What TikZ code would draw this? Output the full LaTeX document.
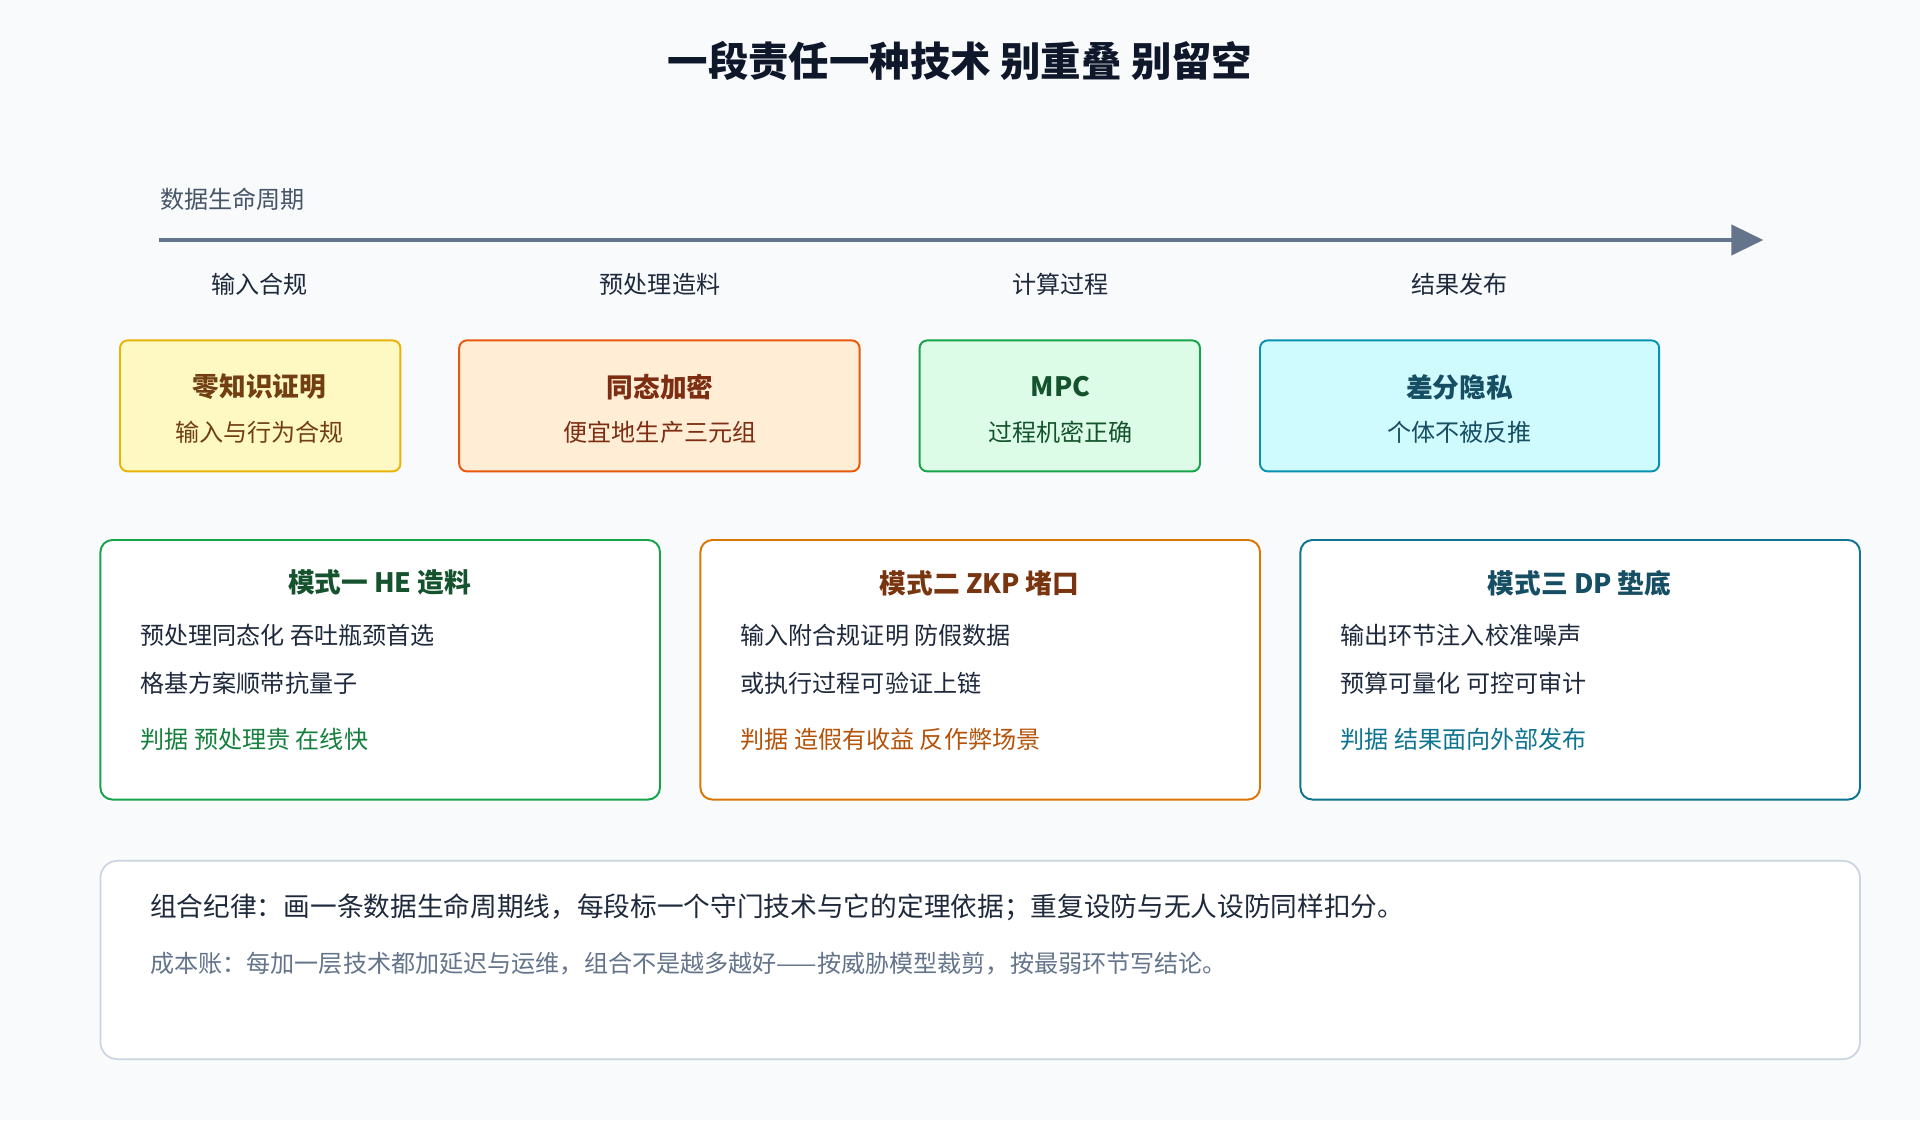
\documentclass[tikz,border=0pt]{standalone}
\usepackage{fontspec}
\setmainfont{Noto Sans CJK SC}
\usetikzlibrary{arrows.meta}
\definecolor{bgGray}{HTML}{F8FAFC}
\definecolor{dInk}{HTML}{0F172A}
\definecolor{dText}{HTML}{1E293B}
\definecolor{dMuted}{HTML}{475569}
\definecolor{dAxis}{HTML}{64748B}
\definecolor{dRule}{HTML}{CBD5E1}
\definecolor{yFill}{HTML}{FEF9C3}\definecolor{yLine}{HTML}{EAB308}\definecolor{yInk}{HTML}{713F12}
\definecolor{oFill}{HTML}{FFEDD5}\definecolor{oLine}{HTML}{EA580C}\definecolor{oInk}{HTML}{7C2D12}
\definecolor{gFill}{HTML}{DCFCE7}\definecolor{gLine}{HTML}{16A34A}\definecolor{gInk}{HTML}{14532D}
\definecolor{cFill}{HTML}{CFFAFE}\definecolor{cLine}{HTML}{0891B2}\definecolor{cInk}{HTML}{164E63}
\definecolor{aLine}{HTML}{D97706}\definecolor{aInk}{HTML}{78350F}\definecolor{aJudge}{HTML}{B45309}
\definecolor{gJudge}{HTML}{15803D}\definecolor{tLine}{HTML}{0E7490}
\tikzset{
    stage/.style={
            rounded corners=1.8pt,
            line width=0.45pt,
            draw={#1}
        },
    mode/.style={
            rounded corners=2.8pt,
            line width=0.45pt,
            draw={#1},
            fill=white
        },
    txt/.style={
            inner sep=0pt,
            font=\fontsize{5.6pt}{6.5pt}\selectfont,
            text={#1}
        },
    txt/.default={dText},
    head/.style={
            inner sep=0pt,
            font=\fontsize{6.2pt}{7pt}\selectfont\bfseries,
            text={#1}
        },
}
\begin{document}
\begin{tikzpicture}[x=0.1mm,y=-0.1mm]
    \fill[bgGray] (0,0) rectangle (1568,915);
    \node[inner sep=0pt,font=\fontsize{9.4pt}{10pt}\selectfont\bfseries,text=dInk] (title) at (784,50) {一段责任一种技术 别重叠 别留空};
    % lifecycle axis
    \node[txt=dMuted,anchor=west] (axislabel) at (130,163) {数据生命周期};
    \coordinate (axisL) at (130,196);
    \coordinate (axisR) at (1440,196);
    \draw[dAxis,line width=0.85pt,-{Triangle[length=7.4pt,width=7pt]}] (axisL) -- (axisR);
    \foreach \x/\t [count=\i] in {212/输入合规,539/预处理造料,866/计算过程,1192/结果发布}
        \node[txt=dText] (phase\i) at (\x,232) {\t};
    % stage boxes
    \filldraw[stage=yLine,fill=yFill] (98,278) rectangle (327,385);
    \filldraw[stage=oLine,fill=oFill] (375,278) rectangle (702,385);
    \filldraw[stage=gLine,fill=gFill] (751,278) rectangle (980,385);
    \filldraw[stage=cLine,fill=cFill] (1029,278) rectangle (1355,385);
    \node[head=yInk] (zkp) at (212,316) {零知识证明};
    \node[txt=yInk] (zkpsub) at (212,353) {输入与行为合规};
    \node[head=oInk] (he) at (539,316) {同态加密};
    \node[txt=oInk] (hesub) at (539,353) {便宜地生产三元组};
    \node[head=gInk] (mpc) at (866,316) {MPC};
    \node[txt=gInk] (mpcsub) at (866,353) {过程机密正确};
    \node[head=cInk] (dp) at (1192,316) {差分隐私};
    \node[txt=cInk] (dpsub) at (1192,353) {个体不被反推};
    % mode boxes
    \draw[mode=gLine] (82,441) rectangle (539,653);
    \draw[mode=aLine] (572,441) rectangle (1029,653);
    \draw[mode=tLine] (1062,441) rectangle (1519,653);
    \node[head=gInk] (modeA) at (310,476) {模式一 HE 造料};
    \node[txt,anchor=west] (modeA1) at (114,519) {预处理同态化 吞吐瓶颈首选};
    \node[txt,anchor=west] (modeA2) at (114,558) {格基方案顺带抗量子};
    \node[txt=gJudge,anchor=west] (modeA3) at (114,604) {判据 预处理贵 在线快};
    \node[head=aInk] (modeB) at (800,476) {模式二 ZKP 堵口};
    \node[txt,anchor=west] (modeB1) at (604,519) {输入附合规证明 防假数据};
    \node[txt,anchor=west] (modeB2) at (604,558) {或执行过程可验证上链};
    \node[txt=aJudge,anchor=west] (modeB3) at (604,604) {判据 造假有收益 反作弊场景};
    \node[head=cInk] (modeC) at (1290,476) {模式三 DP 垫底};
    \node[txt,anchor=west] (modeC1) at (1094,519) {输出环节注入校准噪声};
    \node[txt,anchor=west] (modeC2) at (1094,558) {预算可量化 可控可审计};
    \node[txt=tLine,anchor=west] (modeC3) at (1094,604) {判据 结果面向外部发布};
    % summary
    \draw[rounded corners=4pt,line width=0.4pt,draw=dRule,fill=white] (82,703) rectangle (1519,865);
    \node[inner sep=0pt,anchor=west,font=\fontsize{6.2pt}{7pt}\selectfont,text=dText] (rule) at (122,741) {组合纪律：画一条数据生命周期线，每段标一个守门技术与它的定理依据；重复设防与无人设防同样扣分。};
    \node[txt=dAxis,anchor=west] (cost) at (122,787) {成本账：每加一层技术都加延迟与运维，组合不是越多越好——按威胁模型裁剪，按最弱环节写结论。};
\end{tikzpicture}
\end{document}
